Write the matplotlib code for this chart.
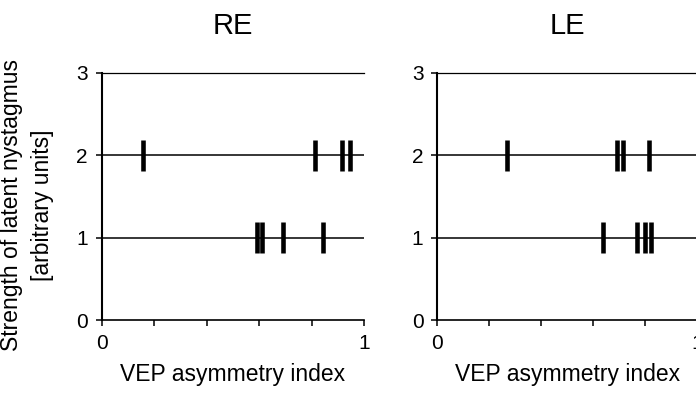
import matplotlib
matplotlib.use("Agg")
import matplotlib.pyplot as plt

# Data
panels = ["RE", "LE"]
re_level2 = [0.159, 0.813, 0.918, 0.947]
re_level1 = [0.593, 0.610, 0.692, 0.842]
le_level2 = [0.269, 0.691, 0.712, 0.815]
le_level1 = [0.636, 0.766, 0.800, 0.823]
levels = [1, 2]
xticks = [0, 0.2, 0.4, 0.6, 0.8, 1.0]
xticklabels = ["0", "", "", "", "", "1"]
yticks = [0, 1, 2, 3]
xlabel = "VEP asymmetry index"
ylabel_lines = ["Strength of latent nystagmus", "[arbitrary units]"]

data = {"RE": (re_level1, re_level2), "LE": (le_level1, le_level2)}

plt.rcParams['font.family'] = ['Liberation Sans', 'DejaVu Sans']
W, H = 696, 393
fig = plt.figure(figsize=(W / 100, H / 100), dpi=100)

def px_axes(x0, x1, ytop, ybot):
    return [x0 / W, (H - ybot) / H, (x1 - x0) / W, (ybot - ytop) / H]

rects = [px_axes(101.7, 364, 73, 320), px_axes(437.3, 697.5, 73, 320)]
fs_tick = 15
fs_lab = 16.5
for name, rect in zip(panels, rects):
    ax = fig.add_axes(rect)
    l1, l2 = data[name]
    for lev in levels:
        ax.axhline(lev, color='black', lw=1.1, zorder=1)
    half = 0.19
    ax.vlines(l1, [levels[0] - half] * len(l1), [levels[0] + half] * len(l1),
              color='black', lw=3.3, zorder=2)
    ax.vlines(l2, [levels[1] - half] * len(l2), [levels[1] + half] * len(l2),
              color='black', lw=3.3, zorder=2)
    ax.set_xlim(0, 1)
    ax.set_ylim(0, 3)
    ax.set_xticks(xticks)
    ax.set_xticklabels(xticklabels, fontsize=fs_tick)
    ax.set_yticks(yticks)
    ax.set_yticklabels([str(t) for t in yticks], fontsize=fs_tick)
    ax.tick_params(axis='both', direction='out', length=4, width=1.1, pad=6, color='black')
    ax.spines['right'].set_visible(False)
    ax.spines['left'].set_linewidth(1.5)
    ax.spines['bottom'].set_linewidth(1.2)
    ax.spines['top'].set_linewidth(0.9)
    ax.set_xlabel(xlabel, fontsize=fs_lab, labelpad=7)
    ax.set_title(name, fontsize=21, pad=28)

fig.text(11.5 / W, (H - 205) / H, ylabel_lines[0], rotation=90, ha='center', va='center', fontsize=fs_lab)
fig.text(43 / W, (H - 205) / H, ylabel_lines[1], rotation=90, ha='center', va='center', fontsize=fs_lab)

fig.savefig("out.png", dpi=100)
